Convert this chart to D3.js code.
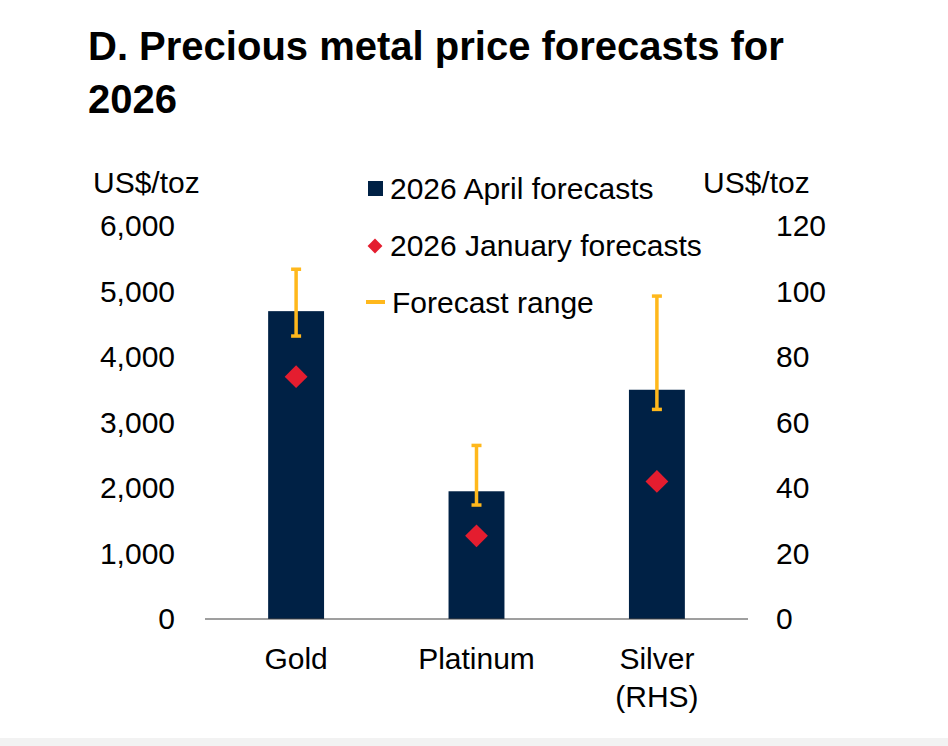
<!DOCTYPE html>
<html><head><meta charset="utf-8">
<script src="https://cdn.jsdelivr.net/npm/d3@7"></script>
<style>body{margin:0;background:#fff;font-family:"Liberation Sans",Arial,sans-serif}</style>
</head><body><svg id="c" width="948" height="746"></svg>
<script>
var categories = [["Gold"], ["Platinum"], ["Silver", "(RHS)"]];
var aprilForecast = [4700, 1950, 70];
var januaryForecast = [3700, 1270, 42];
var rangeLow = [4320, 1740, 64];
var rangeHigh = [5340, 2650, 98.6];
var onRight = [false, false, true];
var leftTicks = [0, 1000, 2000, 3000, 4000, 5000, 6000];
var rightTicks = [0, 20, 40, 60, 80, 100, 120];

var FS = 30;
var svg = d3.select('#c');
svg.append('rect').attr('x', 0).attr('y', 738).attr('width', 948).attr('height', 8).attr('fill', '#f2f2f2');

svg.append('text').attr('x', 88).attr('y', 60).attr('font-size', 40).attr('font-weight', 'bold').text('D. Precious metal price forecasts for');
svg.append('text').attr('x', 88).attr('y', 113).attr('font-size', 40).attr('font-weight', 'bold').text('2026');

var x = d3.scaleBand().domain(d3.range(3)).range([205, 748]).paddingInner(0.69).paddingOuter(0.35);
var yL = d3.scaleLinear().domain([0, 6000]).range([619, 226]);
var yR = d3.scaleLinear().domain([0, 120]).range([619, 226]);
function y(i, v) { return onRight[i] ? yR(v) : yL(v); }

var fmt = d3.format(',');
svg.append('g').selectAll('text').data(leftTicks).join('text')
    .attr('x', 175).attr('y', function(d) { return yL(d) + 10; })
    .attr('text-anchor', 'end').attr('font-size', FS).text(fmt);
svg.append('g').selectAll('text').data(rightTicks).join('text')
    .attr('x', 776).attr('y', function(d) { return yR(d) + 10; })
    .attr('font-size', FS).text(function(d) { return d; });
svg.append('text').attr('x', 93).attr('y', 193).attr('font-size', FS).text('US$/toz');
svg.append('text').attr('x', 703).attr('y', 193).attr('font-size', FS).text('US$/toz');

var idx = d3.range(3);
svg.append('g').selectAll('rect').data(idx).join('rect')
    .attr('x', function(i) { return x(i); }).attr('width', x.bandwidth())
    .attr('y', function(i) { return y(i, aprilForecast[i]); })
    .attr('height', function(i) { return 619 - y(i, aprilForecast[i]); })
    .attr('fill', '#002145');

svg.append('line').attr('x1', 205).attr('x2', 748).attr('y1', 619).attr('y2', 619)
    .attr('stroke', '#404040').attr('stroke-width', 1.2);

var cx = function(i) { return x(i) + x.bandwidth() / 2; };
var eb = svg.append('g').attr('stroke', '#FFB81C').attr('stroke-width', 3.5);
eb.selectAll('.v').data(idx).join('line')
    .attr('x1', cx).attr('x2', cx)
    .attr('y1', function(i) { return y(i, rangeLow[i]); })
    .attr('y2', function(i) { return y(i, rangeHigh[i]); });
[rangeLow, rangeHigh].forEach(function(arr) {
    eb.append('g').selectAll('line').data(idx).join('line')
        .attr('x1', function(i) { return cx(i) - 5; }).attr('x2', function(i) { return cx(i) + 5; })
        .attr('y1', function(i) { return y(i, arr[i]); }).attr('y2', function(i) { return y(i, arr[i]); });
});

var diamond = d3.symbol().type(d3.symbolSquare).size(260);
svg.append('g').selectAll('path').data(idx).join('path')
    .attr('d', diamond)
    .attr('transform', function(i) { return 'translate(' + cx(i) + ',' + y(i, januaryForecast[i]) + ') rotate(45)'; })
    .attr('fill', '#E41D2F');

var cat = svg.append('g').selectAll('text').data(idx).join('text')
    .attr('text-anchor', 'middle').attr('font-size', FS);
cat.each(function(i) {
    var t = d3.select(this);
    categories[i].forEach(function(s, k) {
        t.append('tspan').attr('x', cx(i)).attr('y', 669 + k * 38).text(s);
    });
});

// legend
var lg = svg.append('g');
lg.append('rect').attr('x', 368).attr('y', 181).attr('width', 15).attr('height', 15).attr('fill', '#002145');
lg.append('text').attr('x', 390).attr('y', 199).attr('font-size', FS).text('2026 April forecasts');
lg.append('path').attr('d', diamond.size(110)).attr('transform', 'translate(375,246) rotate(45)').attr('fill', '#E41D2F');
lg.append('text').attr('x', 390).attr('y', 256).attr('font-size', FS).text('2026 January forecasts');
lg.append('line').attr('x1', 366).attr('x2', 385).attr('y1', 302).attr('y2', 302).attr('stroke', '#FFB81C').attr('stroke-width', 4);
lg.append('text').attr('x', 392).attr('y', 313).attr('font-size', FS).text('Forecast range');
</script></body></html>
